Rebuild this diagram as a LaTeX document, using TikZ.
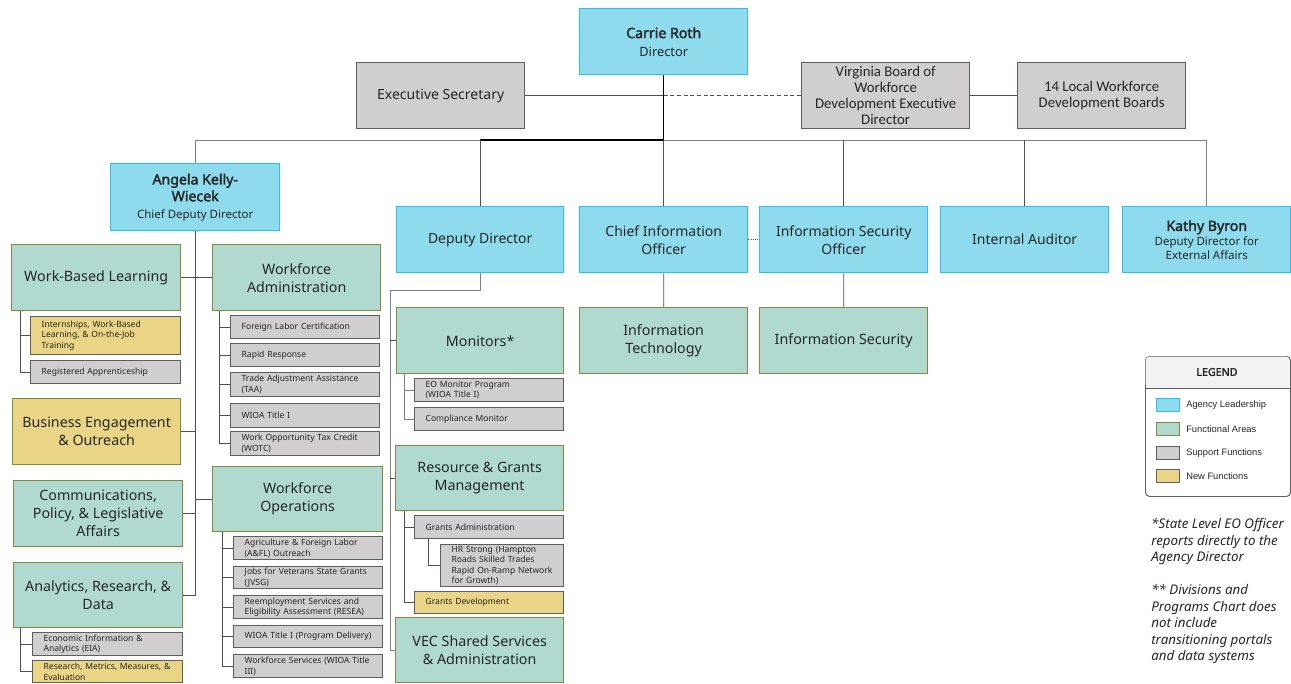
\documentclass[tikz,border=0pt]{standalone}
\usepackage{fontspec}
\setmainfont{Noto Sans}[AutoFakeBold=2.2]
\newfontfamily\calfont{Carlito}
\newfontfamily\legfont{Liberation Sans}
\usetikzlibrary{calc}
\definecolor{leadF}{HTML}{8EDBEE}
\definecolor{leadB}{HTML}{2CC0EE}
\definecolor{funcF}{HTML}{B0DAD0}
\definecolor{funcB}{HTML}{7F8B3C}
\definecolor{suppF}{HTML}{D0CECF}
\definecolor{suppB}{HTML}{5F5F5F}
\definecolor{newF}{HTML}{E9D585}
\definecolor{txt}{HTML}{262626}
\definecolor{lnc}{HTML}{505050}
\newcommand\nm[1]{{\bfseries\fontsize{10.6}{12}\selectfont #1}}
\newcommand\sbt[1]{{\fontsize{9.6}{11.4}\selectfont #1}}
\newcommand\sbk[1]{{\fontsize{8.6}{10.4}\selectfont #1}}
\newcommand\ml[1]{\mbox{#1}}
\tikzset{
  lead/.style={draw=leadB, fill=leadF, line width=1.1pt, align=center, inner sep=1pt, text=txt, font=\fontsize{10.5}{13.5}\selectfont},
  leadA/.style={lead, font=\fontsize{10}{12.6}\selectfont},
  leadK/.style={lead, font=\fontsize{9}{10.6}\selectfont},
  func/.style={draw=funcB, fill=funcF, line width=1pt, align=center, inner sep=1pt, text=txt, font=\fontsize{10.7}{13.5}\selectfont},
  newfunc/.style={func, fill=newF},
  supp/.style={draw=suppB, fill=suppF, line width=1pt, align=center, inner sep=1pt, text=txt, font=\fontsize{10.5}{12}\selectfont},
  calsupp/.style={supp, font=\calfont\fontsize{11.1}{12.1}\selectfont},
  small/.style={draw=suppB, fill=suppF, line width=1pt, align=left, inner ysep=0.5pt, text=txt, font=\fontsize{6.4}{7.9}\selectfont},
  newsmall/.style={small, fill=newF},
  conn/.style={draw=lnc, line width=0.6pt},
  boss/.style={draw=black, line width=1.1pt},
  legsw/.style={draw=suppB, line width=0.8pt, minimum width=17pt, minimum height=9.5pt, inner sep=0pt},
  legtx/.style={anchor=west, font=\legfont\fontsize{7}{8}\selectfont, text=txt, inner sep=0pt}
}
\newcommand\bx[7]{\node[#6, anchor=north west, minimum width={(#4-#2)*0.75pt}, minimum height={(#5-#3)*0.75pt}] (#1) at (#2,#3) {#7};}
\newcommand\sbx[7]{\pgfmathsetmacro\tw{(#4-#2-22)*0.75}\node[#6, anchor=north west, minimum width={(#4-#2)*0.75pt}, minimum height={(#5-#3)*0.75pt}, text width=\tw pt, inner xsep=8.25pt] (#1) at (#2,#3) {#7};}
\begin{document}
\begin{tikzpicture}[x=0.75pt, y=-0.75pt]
\useasboundingbox (0,0) rectangle (1291,683);
\coordinate (busy) at (0,140);
% top
\bx{DIR}{579}{8}{747}{74}{lead}{\nm{Carrie Roth}\\ \sbt{Director}}
\bx{ES}{356}{62}{524}{128}{supp}{Executive Secretary}
\bx{VB}{801}{62}{969}{128}{calsupp}{Virginia Board of\\ Workforce\\ Development Executive\\ Director}
\bx{LB}{1017}{62}{1185}{128}{calsupp}{14 Local Workforce\\ Development Boards}
% leadership row
\bx{ANG}{110}{163}{279}{230}{leadA}{\nm{Angela Kelly-}\\ \nm{Wiecek}\\ \sbk{Chief Deputy Director}}
\bx{DD}{396}{206}{563}{272}{lead}{Deputy Director}
\bx{CIO}{579}{206}{747}{272}{lead}{Chief Information\\ Officer}
\bx{ISO}{759}{206}{927}{272}{lead}{Information Security\\ Officer}
\bx{IA}{940}{206}{1108}{272}{lead}{Internal Auditor}
\bx{KB}{1122}{206}{1290}{272}{leadK}{\nm{Kathy Byron}\\ \sbk{Deputy Director for}\\ \sbk{External Affairs}}
\bx{IT}{579}{307}{747}{373}{func}{Information\\ Technology}
\bx{IS}{759}{307}{927}{373}{func}{Information Security}
% deputy director branch
\bx{MON}{396}{307}{563}{373}{func}{Monitors*}
\sbx{EO}{414}{378}{563}{401}{small}{\ml{EO Monitor Program}\\ \ml{(WIOA Title I)}}
\sbx{CM}{414}{407}{563}{430}{small}{\ml{Compliance Monitor}}
\bx{RGM}{395}{445}{563}{510}{func}{Resource \& Grants\\ Management}
\sbx{GA}{414}{515}{563}{538}{small}{\ml{Grants Administration}}
\sbx{HR}{440}{544}{563}{586}{small}{\ml{HR Strong (Hampton}\\ \ml{Roads Skilled Trades}\\ \ml{Rapid On-Ramp Network}\\ \ml{for Growth)}}
\sbx{GD}{414}{591}{563}{613}{newsmall}{\ml{Grants Development}}
\bx{VEC}{395}{617}{563}{682}{func}{VEC Shared Services\\ \& Administration}
% left branch
\bx{WBL}{11}{244}{180}{310}{func}{Work-Based Learning}
\sbx{INT}{30}{316}{180}{354}{newsmall}{\ml{Internships, Work-Based}\\ \ml{Learning, \& On-the-Job}\\ \ml{Training}}
\sbx{RA}{30}{360}{180}{383}{small}{\ml{Registered Apprenticeship}}
\bx{BEO}{12}{398}{180}{464}{newfunc}{Business Engagement\\ \& Outreach}
\bx{CPL}{13}{480}{182}{546}{func}{Communications,\\ Policy, \& Legislative\\ Affairs}
\bx{ARD}{13}{562}{182}{627}{func}{Analytics, Research, \&\\ Data}
\sbx{EIA}{32}{632}{182}{655}{small}{\ml{Economic Information \&}\\ \ml{Analytics (EIA)}}
\sbx{RMM}{32}{660}{182}{682}{newsmall}{\ml{Research, Metrics, Measures, \&}\\ \ml{Evaluation}}
\bx{WA}{212}{244}{380}{310}{func}{Workforce\\ Administration}
\sbx{FLC}{230}{315}{379}{338}{small}{\ml{Foreign Labor Certification}}
\sbx{RR}{230}{343}{379}{366}{small}{\ml{Rapid Response}}
\sbx{TAA}{230}{372}{379}{396}{small}{\ml{Trade Adjustment Assistance}\\ \ml{(TAA)}}
\sbx{WT}{230}{403}{379}{427}{small}{\ml{WIOA Title I}}
\sbx{WOTC}{230}{431}{379}{455}{small}{\ml{Work Opportunity Tax Credit}\\ \ml{(WOTC)}}
\bx{WO}{212}{466}{382}{531}{func}{Workforce\\ Operations}
\sbx{AFL}{233}{536}{382}{559}{small}{\ml{Agriculture \& Foreign Labor}\\ \ml{(A\&FL) Outreach}}
\sbx{JV}{233}{566}{382}{588}{small}{\ml{Jobs for Veterans State Grants}\\ \ml{(JVSG)}}
\sbx{RE}{233}{595}{382}{618}{small}{\ml{Reemployment Services and}\\ \ml{Eligibility Assessment (RESEA)}}
\sbx{WPD}{233}{625}{382}{647}{small}{\ml{WIOA Title I (Program Delivery)}}
\sbx{WS}{233}{654}{382}{677}{small}{\ml{Workforce Services (WIOA Title}\\ \ml{III)}}
% ---------- connectors ----------
\draw[conn] (ES.east) -- (ES.east -| DIR.south);
\draw[conn, densely dashed] (ES.east -| DIR.south) -- (VB.west);
\draw[conn] (VB.east) -- (LB.west);
\draw[conn, draw=gray] (ANG.north) |- (KB.north |- busy) -- (KB.north);
\draw[boss] (DIR.south) -- (DIR.south |- busy) -- (DD.north |- busy);
\draw[conn] (DD.north |- busy) -- (DD.north);
\draw[conn] (CIO.north |- busy) -- (CIO.north);
\draw[conn] (ISO.north |- busy) -- (ISO.north);
\draw[conn] (IA.north |- busy) -- (IA.north);
\draw[conn, densely dotted] (CIO.east) -- (ISO.west);
\draw[conn] (CIO.south) -- (IT.north);
\draw[conn] (ISO.south) -- (IS.north);
% deputy director
\coordinate (ddj) at ($(MON.north west)+(-6,-17)$);
\draw[conn, draw=gray] (DD.south) |- (ddj) |- (VEC.west);
\draw[conn] (ddj |- MON.west) -- (MON.west);
\draw[conn] (ddj |- RGM.west) -- (RGM.west);
\draw[conn, draw=gray] ($(MON.south west)+(8,0)$) |- (EO.west);
\draw[conn, draw=gray] ($(MON.south west)+(8,0)$) |- (CM.west);
\draw[conn] ($(RGM.south west)+(9,0)$) |- (GA.west);
\draw[conn] ($(RGM.south west)+(9,0)$) |- (GD.west);
\draw[conn] ($(GA.south west)+(14,0)$) |- (HR.west);
% left
\draw[conn] (ANG.south) -- (ANG.south |- ARD.east) -- (ARD.east);
\draw[conn] (WBL.east) -- (WA.west);
\draw[conn] (BEO.east) -- (BEO.east -| ANG.south);
\draw[conn] (CPL.east) -- (CPL.east -| ANG.south);
\draw[conn] (ANG.south |- WO.west) -- (WO.west);
\draw[conn] ($(WBL.south west)+(9,0)$) |- (INT.west);
\draw[conn] ($(WBL.south west)+(9,0)$) |- (RA.west);
\draw[conn] ($(ARD.south west)+(7,0)$) |- (EIA.west);
\draw[conn] ($(ARD.south west)+(7,0)$) |- (RMM.west);
\foreach \n in {FLC,RR,TAA,WT,WOTC}{\draw[conn] ($(WA.south west)+(7,0)$) |- (\n.west);}
\foreach \n in {AFL,JV,RE,WPD,WS}{\draw[conn] ($(WO.south west)+(10,0)$) |- (\n.west);}
% legend
\node[draw=suppB, line width=0.7pt, rounded corners=3pt, fill=white, anchor=north west, minimum width={145*0.75pt}, minimum height={140*0.75pt}] (LEG) at (1145,356) {};
\path[fill=black!5, rounded corners=3pt] (1145.5,388) -- (1145.5,356.5) -- (1289.5,356.5) -- (1289.5,388) -- cycle;
\draw[draw=suppB, line width=0.5pt] (1145,388) -- (1290,388);
\node[font=\bfseries\fontsize{8}{9}\selectfont, text=txt] (LT) at (1217,372) {LEGEND};
\node[legsw, draw=leadB, fill=leadF] (L1) at (1168,405) {};
\node[legsw, draw=funcB, fill=funcF] (L2) at (1168,429) {};
\node[legsw, fill=suppF] (L3) at (1168,453) {};
\node[legsw, fill=newF] (L4) at (1168,476) {};
\node[legtx] (T1) at (1186,405) {Agency Leadership};
\node[legtx] (T2) at (1186,429) {Functional Areas};
\node[legtx] (T3) at (1186,453) {Support Functions};
\node[legtx] (T4) at (1186,476) {New Functions};
% notes
\node[anchor=north west, align=left, inner sep=0pt, text=txt, font=\itshape\fontsize{10}{12.4}\selectfont] (NOTE) at (1151,518) {*State Level EO Officer\\ reports directly to the\\ Agency Director\\[12.4pt] ** Divisions and\\ Programs Chart does\\ not include\\ transitioning portals\\ and data systems};
\end{tikzpicture}
\end{document}
